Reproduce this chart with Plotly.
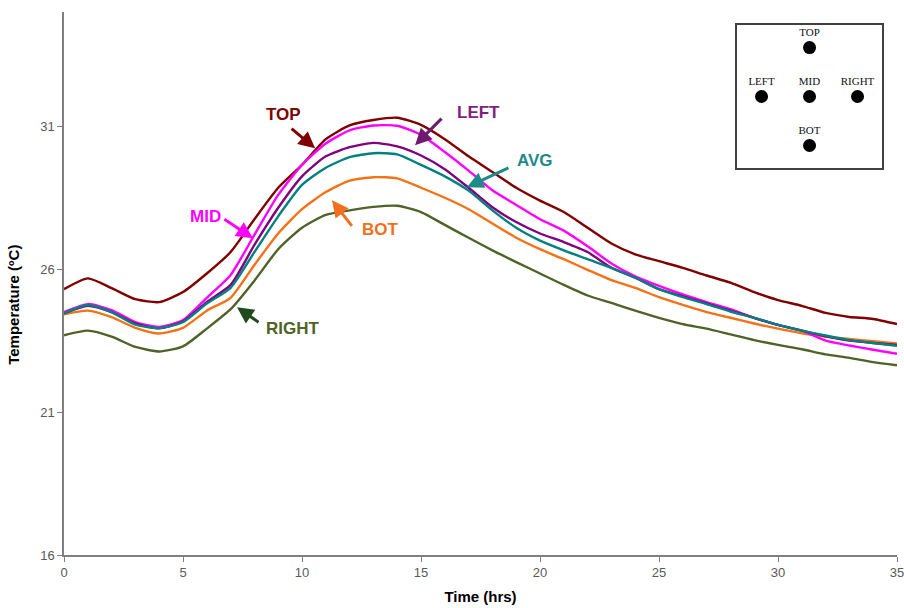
import plotly.graph_objects as go

# Hourly readings of the six temperature sensors (deg C)
hours = list(range(0, 36))

top = [25.30, 25.68, 25.34, 24.95, 24.85, 25.20, 25.85, 26.60, 27.75, 28.85,
       29.65, 30.55, 31.03, 31.22, 31.30, 31.05, 30.55, 29.95, 29.40, 28.85,
       28.40, 28.00, 27.45, 26.90, 26.52, 26.28, 26.05, 25.78, 25.53, 25.20,
       24.92, 24.72, 24.47, 24.33, 24.26, 24.08]
mid = [24.50, 24.78, 24.57, 24.15, 23.98, 24.22, 25.00, 25.80, 27.20, 28.60,
       29.65, 30.40, 30.86, 31.03, 31.02, 30.70, 30.10, 29.45, 28.76, 28.25,
       27.75, 27.35, 26.80, 26.20, 25.75, 25.42, 25.12, 24.85, 24.60, 24.30,
       24.05, 23.85, 23.50, 23.33, 23.18, 23.04]
left = [24.45, 24.72, 24.50, 24.10, 23.93, 24.18, 24.85, 25.45, 26.85, 28.15,
        29.25, 29.95, 30.27, 30.42, 30.30, 29.98, 29.50, 28.85, 28.17, 27.65,
        27.25, 26.95, 26.60, 26.05, 25.70, 25.30, 25.05, 24.80, 24.55, 24.30,
        24.05, 23.85, 23.65, 23.50, 23.42, 23.35]
avg = [24.46, 24.75, 24.50, 24.06, 23.94, 24.15, 24.80, 25.35, 26.60, 27.85,
       28.95, 29.55, 29.92, 30.06, 30.02, 29.65, 29.25, 28.75, 28.06, 27.45,
       27.00, 26.66, 26.35, 26.05, 25.70, 25.30, 25.02, 24.78, 24.52, 24.30,
       24.05, 23.85, 23.68, 23.52, 23.42, 23.32]
bot = [24.42, 24.55, 24.32, 23.95, 23.75, 23.95, 24.55, 25.00, 26.15, 27.25,
       28.10, 28.70, 29.10, 29.22, 29.18, 28.85, 28.50, 28.10, 27.60, 27.10,
       26.70, 26.35, 25.98, 25.62, 25.35, 25.02, 24.75, 24.50, 24.30, 24.10,
       23.92, 23.76, 23.64, 23.56, 23.48, 23.40]
right = [23.69, 23.85, 23.64, 23.28, 23.12, 23.30, 23.92, 24.60, 25.60, 26.70,
         27.45, 27.90, 28.06, 28.18, 28.22, 28.00, 27.55, 27.10, 26.66, 26.25,
         25.85, 25.45, 25.08, 24.82, 24.55, 24.30, 24.08, 23.92, 23.72, 23.52,
         23.35, 23.20, 23.02, 22.90, 22.75, 22.64]

y_ticks = [16, 21, 26, 31]
x_ticks = [0, 5, 10, 15, 20, 25, 30, 35]

# Sensor layout for the inset diagram (column, row)
sensor_names = ["TOP", "LEFT", "MID", "RIGHT", "BOT"]
sensor_col = [0, -1, 0, 1, 0]
sensor_row = [1, 0, 0, 0, -1]

series = [
    ("TOP", top, "#800000"),
    ("RIGHT", right, "#4F6228"),
    ("BOT", bot, "#F47216"),
    ("MID", mid, "#FF00FF"),
    ("LEFT", left, "#800080"),
    ("AVG", avg, "#008080"),
]

fig = go.Figure()
for name, vals, color in series:
    fig.add_trace(go.Scatter(
        x=hours, y=vals, name=name, mode="lines",
        line=dict(color=color, width=2.4, shape="spline", smoothing=0.6),
        showlegend=False, hoverinfo="x+y+name",
    ))

# Inset: sensor positions
fig.add_trace(go.Scatter(
    x=sensor_col, y=sensor_row, text=sensor_names, mode="markers+text",
    textposition="top center",
    textfont=dict(family="Liberation Serif, Times New Roman, serif", size=11, color="#111111"),
    marker=dict(size=13, color="black"),
    xaxis="x2", yaxis="y2", showlegend=False, hoverinfo="text",
))

# Callout labels: (text, color, arrow color, head x, head y, tail dx, tail dy, label x px offset, label y px offset)
callouts = [
    ("TOP", "#800000", "#800000", 10.55, 30.23, -25, -21, -32, -34),
    ("LEFT", "#7F1F7F", "#6E1A6E", 14.75, 30.34, 28, -28, 63, -33),
    ("AVG", "#1F8A8A", "#1F8A8A", 16.93, 28.87, 43, -20, 68, -27),
    ("MID", "#FF00FF", "#FF00FF", 7.94, 27.08, -30, -20, -47, -22),
    ("BOT", "#F07020", "#F07020", 11.26, 28.41, 21, 27, 49, 29),
    ("RIGHT", "#4F6228", "#1E4A1E", 7.27, 24.67, 23, 16, 56, 21),
]
for text, tcolor, acolor, hx, hy, dx, dy, lx, ly in callouts:
    fig.add_annotation(
        x=hx, y=hy, ax=dx, ay=dy, axref="pixel", ayref="pixel",
        showarrow=True, arrowhead=2, arrowsize=1.1, arrowwidth=3,
        arrowcolor=acolor, text="",
    )
    fig.add_annotation(
        x=hx, y=hy, xshift=lx, yshift=-ly, showarrow=False, text="<b>%s</b>" % text,
        font=dict(family="Arial, Liberation Sans, sans-serif", size=17, color=tcolor),
    )

axis_font = dict(family="Arial, Liberation Sans, sans-serif", size=13, color="#595959")
title_font = dict(family="Arial, Liberation Sans, sans-serif", size=15, color="black")

# Y-axis title placed as a rotated annotation
fig.add_annotation(
    xref="paper", yref="paper", x=-0.0605, y=0.46, xanchor="center", yanchor="middle",
    showarrow=False, text="<b>Temperature (ºC)</b>", textangle=-90, font=title_font,
)

fig.update_layout(
    width=904, height=608,
    margin=dict(l=64, r=7, t=12, b=53, autoexpand=False),
    paper_bgcolor="white", plot_bgcolor="white",
    xaxis=dict(
        range=[0, 35], tickvals=x_ticks, ticks="outside", ticklen=5,
        tickcolor="#7F7F7F", showline=True, linecolor="#7F7F7F", linewidth=1.5,
        showgrid=False, zeroline=False, tickfont=axis_font, automargin=False,
        ticklabeloverflow="allow",
        title=dict(text="<b>Time (hrs)</b>", font=title_font, standoff=12),
    ),
    yaxis=dict(
        range=[16, 35], tickvals=y_ticks, ticks="outside", ticklen=5,
        tickcolor="#7F7F7F", showline=True, linecolor="#7F7F7F", linewidth=1.5,
        showgrid=False, zeroline=False, tickfont=axis_font, automargin=False,
    ),
    xaxis2=dict(
        domain=[0.808, 0.982], anchor="y2", range=[-1.51, 1.51],
        showline=True, mirror=True, linecolor="#404040", linewidth=1.5,
        showgrid=False, zeroline=False, showticklabels=False, ticks="",
        fixedrange=True, automargin=False,
    ),
    yaxis2=dict(
        domain=[0.7127, 0.976], anchor="x2", range=[-1.46, 1.46],
        showline=True, mirror=True, linecolor="#404040", linewidth=1.5,
        showgrid=False, zeroline=False, showticklabels=False, ticks="",
        fixedrange=True, automargin=False,
    ),
)

fig.write_html("out.html")
